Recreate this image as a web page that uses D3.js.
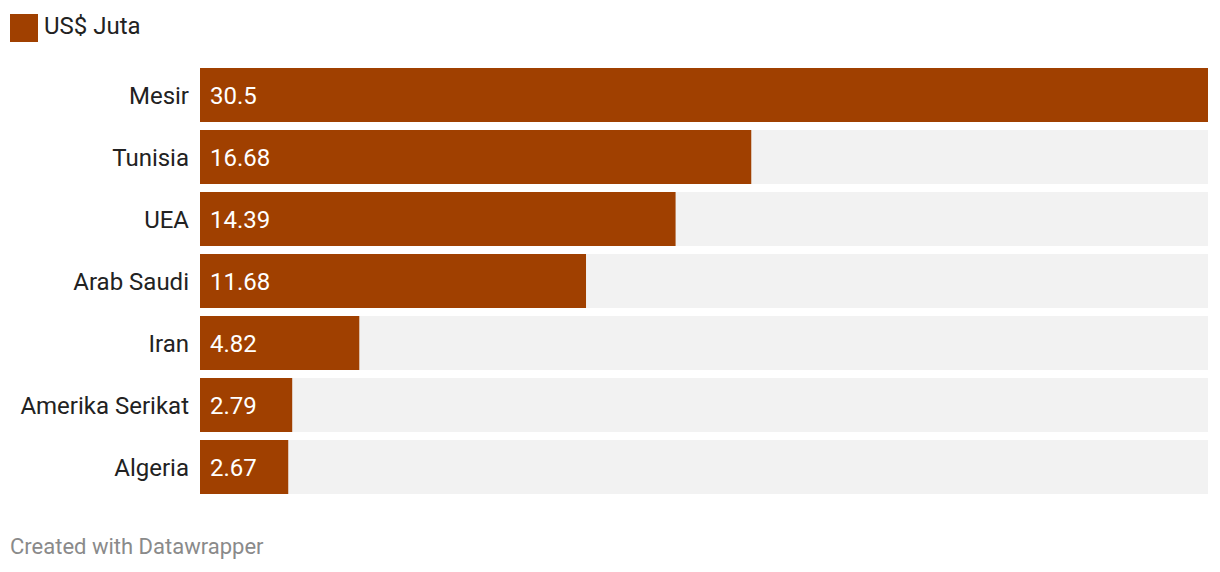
<!DOCTYPE html>
<html><head><meta charset="utf-8">
<script src="https://cdn.jsdelivr.net/npm/d3@7"></script>
<style>body{margin:0;background:#fff;font-family:Roboto,sans-serif;}</style>
</head><body>
<svg id="chart" width="1220" height="572"></svg>
<script>
const categories = ["Mesir","Tunisia","UEA","Arab Saudi","Iran","Amerika Serikat","Algeria"];
const values = [30.5,16.68,14.39,11.68,4.82,2.79,2.67];
const valueLabels = ["30.5","16.68","14.39","11.68","4.82","2.79","2.67"];
const seriesName = "US$ Juta";

const svg = d3.select("#chart");
const color = "#a04000";
const x = d3.scaleLinear().domain([0, d3.max(values)]).range([200, 1208]);
const y = d3.scaleBand().domain(categories).range([68, 494]).paddingInner(8/62).paddingOuter(0);
// legend
svg.append("rect").attr("x",10).attr("y",14).attr("width",28).attr("height",28).attr("fill",color);
svg.append("text").attr("x",44).attr("y",34).attr("font-size",24).attr("fill","#222").text(seriesName);

const g = svg.append("g");
const rows = g.selectAll("g.row").data(categories).join("g").attr("class","row");
rows.append("rect").attr("x",x(0)).attr("y",d=>y(d)).attr("width",x.range()[1]-x(0)).attr("height",y.bandwidth()).attr("fill","#f2f2f2");
rows.append("rect").attr("x",x(0)).attr("y",d=>y(d)).attr("width",(d,i)=>x(values[i])-x(0)).attr("height",y.bandwidth()).attr("fill",color);
rows.append("text").attr("x",189).attr("y",d=>y(d)+y.bandwidth()/2+9).attr("text-anchor","end").attr("font-size",24).attr("fill","#222").text(d=>d);
rows.append("text").attr("x",x(0)+10).attr("y",d=>y(d)+y.bandwidth()/2+9).attr("font-size",24).attr("fill","#fff").text((d,i)=>valueLabels[i]);

svg.append("text").attr("x",10).attr("y",554).attr("font-size",22).attr("fill","#8a8a8a").text("Created with Datawrapper");
</script>
</body></html>
